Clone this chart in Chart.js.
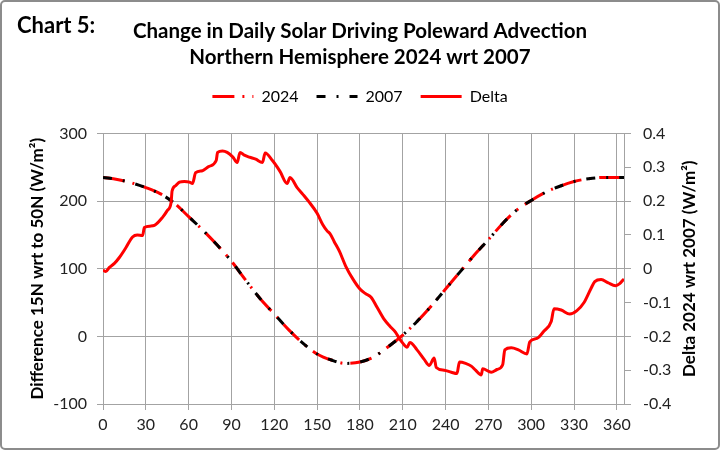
<!DOCTYPE html>
<html><head><meta charset="utf-8">
<script src="https://cdn.jsdelivr.net/npm/chart.js@4.4.1/dist/chart.umd.min.js"></script>
<style>html,body{margin:0;padding:0;background:#fff}#wrap{width:720px;height:450px;position:relative}</style>
</head><body><div id="wrap"><canvas id="c" width="720" height="450"></canvas></div>
<script>
const chartLabel = 'Chart 5:';
const titleLines = ['Change in Daily Solar Driving Poleward Advection', 'Northern Hemisphere 2024 wrt 2007'];
const seriesNames = ['2024', '2007', 'Delta'];
const leftAxisTitle = 'Difference 15N wrt to 50N (W/m\u00B2)';
const rightAxisTitle = 'Delta 2024 wrt 2007 (W/m\u00B2)';

const curveDays = [0,10,20,30,40,50,60,70,80,90,100,110,120,130,140,150,160,170,180,190,200,210,220,230,240,250,260,270,280,290,300,310,320,330,340,350,360,365];
const values2024 = [235,232,227,220,211,197,177,157,135,111,83,56,33,10,-10,-26,-35,-40,-38,-30,-15,2,22,45,70,95,120,143,167,187,201,213,222,229,233,235,235,235];
const values2007 = [235,232,227,220,211,197,177,157,135,111,83,56,33,10,-10,-26,-35,-40,-38,-30,-15,2,22,45,70,95,120,143,167,187,201,213,222,229,233,235,235,235];

const deltaDays = [0,2,4.5,8,11.6,16,20.7,24,27.7,29,33,36,41.7,45,47.7,48.4,51,53.6,57,60.6,62.7,64.9,69.7,74,79.3,80.3,83.7,87,91,94,96,99,102.6,107,111.7,113.6,118.7,124,129,131,136,140,144.6,150,154,157,159,162,165.6,170,175,180,184,187.8,192,197,201,205,207.6,210,213,215,220,225,228.6,232,233.5,239,244,248,249.7,254,258,261,265,266,272,276,280,281.5,286,291,297,299,304,309,314,316,321,327,332,337,341.7,344.5,349,354,359,362,365];
const deltaValues = [-0.004,-0.008,0.004,0.016,0.034,0.062,0.094,0.100,0.098,0.122,0.126,0.128,0.152,0.172,0.196,0.230,0.246,0.256,0.258,0.256,0.252,0.284,0.290,0.302,0.320,0.344,0.348,0.344,0.330,0.314,0.344,0.336,0.330,0.324,0.314,0.342,0.320,0.288,0.252,0.270,0.240,0.220,0.196,0.164,0.130,0.112,0.104,0.080,0.052,0.008,-0.030,-0.060,-0.074,-0.084,-0.114,-0.150,-0.170,-0.188,-0.206,-0.220,-0.232,-0.218,-0.240,-0.268,-0.286,-0.264,-0.292,-0.300,-0.306,-0.310,-0.276,-0.280,-0.288,-0.300,-0.314,-0.296,-0.306,-0.298,-0.284,-0.240,-0.234,-0.240,-0.252,-0.216,-0.206,-0.184,-0.156,-0.118,-0.122,-0.134,-0.124,-0.100,-0.060,-0.038,-0.032,-0.042,-0.050,-0.044,-0.030];

const toPoints = (xs, ys) => xs.map((x, i) => ({x: x, y: ys[i]}));
const FONT = 'Lato';
const GRID = '#a3a3a3';

const framePlugin = {
  id: 'frame',
  beforeInit(chart) {
    const origFit = chart.legend.fit;
    chart.legend.fit = function () { origFit.call(chart.legend); this.height = 63; };
  },
  beforeDraw(chart) {
    const ctx = chart.ctx;
    ctx.save();
    ctx.fillStyle = '#ffffff';
    ctx.fillRect(0, 0, chart.width, chart.height);
    ctx.restore();
  },
  afterDraw(chart) {
    const ctx = chart.ctx;
    const area = chart.chartArea;
    ctx.save();
    ctx.strokeStyle = '#8c8c8c';
    ctx.lineWidth = 2;
    ctx.beginPath();
    ctx.roundRect ? ctx.roundRect(1, 1, chart.width - 2, chart.height - 2, 4) : ctx.rect(1, 1, chart.width - 2, chart.height - 2);
    ctx.stroke();
    ctx.fillStyle = '#000';
    ctx.font = 'bold 22px ' + FONT;
    ctx.textBaseline = 'middle';
    ctx.textAlign = 'left';
    ctx.fillText(chartLabel, 17, 26);
    // right axis title, reading bottom-to-top as in the reference
    ctx.font = 'bold 17px ' + FONT;
    ctx.textAlign = 'center';
    ctx.translate(chart.scales.y1.right - 30, (area.top + area.bottom) / 2);
    ctx.rotate(-Math.PI / 2);
    ctx.fillText(rightAxisTitle, 0, 0);
    ctx.restore();
  }
};

new Chart(document.getElementById('c'), {
  type: 'line',
  data: {
    datasets: [
      { label: seriesNames[0], data: toPoints(curveDays, values2024), yAxisID: 'y', order: 2,
        borderColor: '#ff0000', backgroundColor: '#ff0000', borderWidth: 3, borderDash: [22, 8, 2, 8],
        pointRadius: 0, pointStyle: 'line', cubicInterpolationMode: 'monotone', fill: false },
      { label: seriesNames[1], data: toPoints(curveDays, values2007), yAxisID: 'y', order: 1,
        borderColor: '#000000', backgroundColor: '#000000', borderWidth: 3, borderDash: [9, 11, 2, 11],
        pointRadius: 0, pointStyle: 'line', cubicInterpolationMode: 'monotone', fill: false },
      { label: seriesNames[2], data: toPoints(deltaDays, deltaValues), yAxisID: 'y1', order: 0,
        borderColor: '#ff0000', backgroundColor: '#ff0000', borderWidth: 3,
        pointRadius: 0, pointStyle: 'line', cubicInterpolationMode: 'monotone', fill: false }
    ]
  },
  options: {
    responsive: false,
    animation: false,
    devicePixelRatio: 1,
    layout: { padding: { left: 0, right: 0, top: 0, bottom: 0 } },
    plugins: {
      title: { display: true, text: titleLines, color: '#000', font: { family: FONT, size: 20.5, weight: 'bold', lineHeight: 1.28 }, padding: { top: 18, bottom: 0 } },
      legend: { display: true, position: 'top',
        labels: { usePointStyle: true, pointStyleWidth: 41, boxHeight: 16, padding: 18, color: '#000', font: { family: FONT, size: 16 },
          sort: (a, b) => a.datasetIndex - b.datasetIndex,
          generateLabels: chart => Chart.defaults.plugins.legend.labels.generateLabels(chart).map(item => {
            const ds = chart.data.datasets[item.datasetIndex];
            item.lineDash = ds.borderDash || [];
            item.lineWidth = ds.borderWidth;
            item.strokeStyle = ds.borderColor;
            item.pointStyle = 'line';
            return item;
          }) } },
      tooltip: { enabled: false }
    },
    scales: {
      x: { type: 'linear', min: 0, max: 365,
        afterFit: s => { s.height = 46; },
        ticks: { stepSize: 30, includeBounds: false, color: '#222', font: { family: FONT, size: 16 }, padding: 5, maxRotation: 0 },
        grid: { color: GRID, lineWidth: 1, tickLength: 6 },
        border: { color: GRID } },
      y: { position: 'left', min: -100, max: 300,
        afterFit: s => { s.width = 103; },
        ticks: { stepSize: 100, color: '#222', font: { family: FONT, size: 16 }, padding: 10 },
        grid: { color: GRID, lineWidth: 1, tickLength: 6 },
        border: { color: GRID },
        title: { display: true, text: leftAxisTitle, color: '#000', font: { family: FONT, size: 17, weight: 'bold' }, padding: { top: 27, bottom: 0 } } },
      y1: { position: 'right', min: -0.4, max: 0.4,
        afterFit: s => { s.width = 96; },
        ticks: { stepSize: 0.1, color: '#222', font: { family: FONT, size: 16 }, padding: 12,
          callback: v => (Math.abs(v) < 1e-9 ? '0' : String(Number(v.toFixed(1)))) },
        grid: { drawOnChartArea: false, color: GRID, lineWidth: 1, tickLength: 7 },
        border: { color: GRID },
        title: { display: false, text: rightAxisTitle } }
    }
  },
  plugins: [framePlugin]
});
</script></body></html>
